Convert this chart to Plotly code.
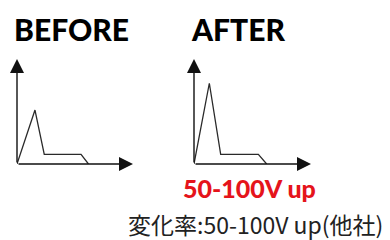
import plotly.graph_objects as go

# ---- data ----
before_t = [0.0, 1.55, 2.35, 5.52, 6.16]
before_v = [0.0, 5.14, 0.92, 0.92, 0.0]
after_t = [0.0, 1.31, 2.28, 5.50, 6.21]
after_v = [0.0, 7.69, 0.92, 0.92, 0.0]
axis_max = 10
titles = ["BEFORE", "AFTER"]
gain_label = "50-100V up"
caption = "変化率:50-100V up(他社)"

# the page body has an 8px default margin; lay out in page pixels
OFF = 8
W, H = 390 - OFF, 240 - OFF
HEAVY = "Lato, 'Noto Sans', sans-serif"

fig = go.Figure()
line_col = "#2a2a2a"

fig.add_trace(go.Scatter(x=before_t, y=before_v, mode="lines",
                         line=dict(color=line_col, width=1.3),
                         xaxis="x", yaxis="y", showlegend=False, hoverinfo="skip"))
fig.add_trace(go.Scatter(x=after_t, y=after_v, mode="lines",
                         line=dict(color=line_col, width=1.3),
                         xaxis="x2", yaxis="y2", showlegend=False, hoverinfo="skip"))

def px_x(p):
    return (p - OFF) / W

def px_y(p):
    return 1 - (p - OFF) / H

ax_common = dict(range=[0, axis_max], showgrid=False, zeroline=False,
                 showline=False, showticklabels=False, ticks="", fixedrange=True)

annotations = []
for xr, yr in (("x", "y"), ("x2", "y2")):
    annotations.append(dict(x=axis_max, y=0, ax=0, ay=0, xref=xr, yref=yr,
                            axref=xr, ayref=yr, text="", showarrow=True,
                            arrowhead=2, arrowsize=2.0, arrowwidth=1.4,
                            arrowcolor="#111", standoff=0))
    annotations.append(dict(x=0, y=axis_max, ax=0, ay=0, xref=xr, yref=yr,
                            axref=xr, ayref=yr, text="", showarrow=True,
                            arrowhead=2, arrowsize=2.0, arrowwidth=1.4,
                            arrowcolor="#111", standoff=0))

annotations.append(dict(x=px_x(71), y=px_y(29), xref="paper", yref="paper",
                        text=titles[0], showarrow=False,
                        font=dict(family=HEAVY, size=30, weight=900, color="#000"),
                        xanchor="center", yanchor="middle"))
annotations.append(dict(x=px_x(238), y=px_y(29), xref="paper", yref="paper",
                        text=titles[1], showarrow=False,
                        font=dict(family=HEAVY, size=30, weight=900, color="#000"),
                        xanchor="center", yanchor="middle"))
annotations.append(dict(x=px_x(249), y=px_y(188), xref="paper", yref="paper",
                        text=gain_label, showarrow=False,
                        font=dict(family=HEAVY, size=25, weight=900, color="#e5141b"),
                        xanchor="center", yanchor="middle"))
annotations.append(dict(x=px_x(255), y=px_y(224), xref="paper", yref="paper",
                        text=caption, showarrow=False,
                        font=dict(family="'Noto Sans CJK JP', sans-serif", size=23, color="#222"),
                        xanchor="center", yanchor="middle"))

fig.update_layout(
    width=W, height=H, autosize=False,
    margin=dict(l=0, r=0, t=0, b=0),
    paper_bgcolor="white", plot_bgcolor="rgba(0,0,0,0)",
    xaxis=dict(domain=[px_x(17), px_x(133)], anchor="y", **ax_common),
    yaxis=dict(domain=[px_y(164), px_y(59)], anchor="x", **ax_common),
    xaxis2=dict(domain=[px_x(194), px_x(311)], anchor="y2", **ax_common),
    yaxis2=dict(domain=[px_y(164), px_y(59)], anchor="x2", **ax_common),
    annotations=annotations,
)

fig.write_html("out.html")
